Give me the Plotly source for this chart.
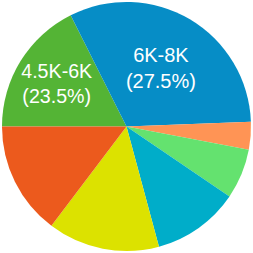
import plotly.graph_objects as go

labels = ["4.5K-6K", "6K-8K", "8K-10K", "10K-15K", "15K-20K", "3K-4.5K", "<3K"]
values = [17.6, 31.8, 3.6, 6.5, 11.3, 14.5, 14.7]
shown_pct = ["23.5%", "27.5%", "", "", "", "", ""]
colors = ["#54b435", "#068dc6", "#ff9455", "#64e26f", "#00adc9", "#dce200", "#ec5a1d"]

texts = [f"{l}<br>({p})" if p else "" for l, p in zip(labels, shown_pct)]

fig = go.Figure(go.Pie(
    labels=labels,
    values=values,
    text=texts,
    textinfo="text",
    textposition="inside",
    insidetextorientation="horizontal",
    sort=False,
    direction="clockwise",
    rotation=-90,
    marker=dict(colors=colors, line=dict(width=0)),
    textfont=dict(family="Liberation Sans, Arial, sans-serif", size=20, color="white"),
    showlegend=False,
    hoverinfo="label+percent",
))
fig.update_layout(
    width=253, height=253,
    margin=dict(l=2, r=2, t=2, b=2),
    paper_bgcolor="white",
    plot_bgcolor="white",
)
fig.write_html("out.html")
